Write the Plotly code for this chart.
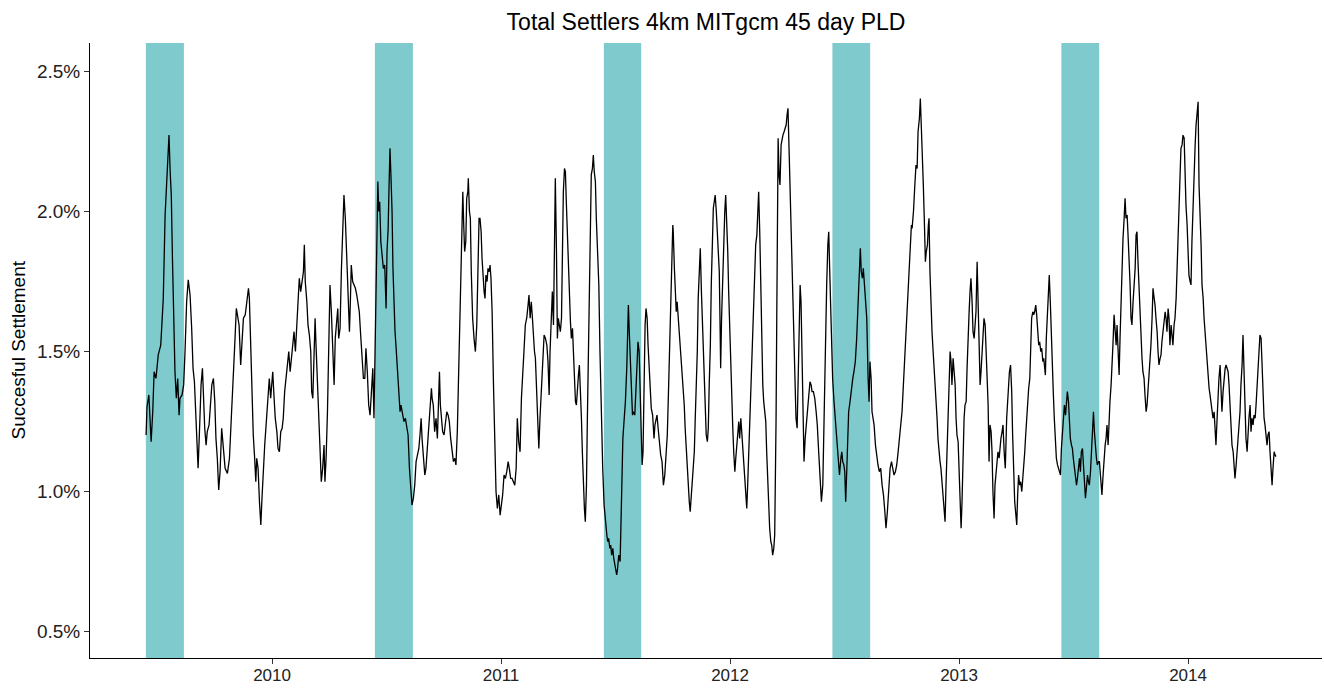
import plotly.graph_objects as go

# Decimal-year time stamps and settlement percentages
t = [
2009.450,2009.454,2009.462,2009.472,2009.479,2009.485,2009.493,2009.503,2009.514,2009.520,
2009.525,2009.533,2009.540,2009.546,2009.550,2009.555,2009.560,2009.565,2009.571,2009.576,
2009.582,2009.588,2009.594,2009.598,2009.607,2009.614,2009.620,2009.627,2009.634,2009.642,
2009.649,2009.655,2009.661,2009.667,2009.671,2009.677,2009.683,2009.690,2009.696,2009.700,
2009.706,2009.712,2009.717,2009.725,2009.731,2009.737,2009.744,2009.750,2009.755,2009.761,
2009.767,2009.773,2009.780,2009.787,2009.795,2009.805,2009.814,2009.822,2009.830,2009.837,
2009.844,2009.850,2009.856,
2009.863,2009.869,2009.875,2009.883,2009.891,2009.897,2009.901,2009.907,2009.913,2009.918,
2009.924,2009.929,2009.933,2009.939,2009.945,2009.951,2009.956,2009.962,2009.968,2009.974,
2009.981,2009.988,2009.994,2010.003,2010.009,2010.014,2010.021,2010.026,2010.032,2010.038,
2010.044,2010.049,2010.055,2010.061,2010.067,2010.073,2010.079,2010.084,2010.090,2010.096,
2010.102,2010.108,2010.114,2010.119,2010.125,2010.131,2010.137,2010.141,2010.145,2010.152,
2010.157,2010.163,2010.169,2010.173,2010.178,2010.183,2010.188,2010.192,2010.198,2010.204,
2010.210,2010.215,2010.221,2010.227,2010.231,2010.236,2010.242,2010.248,2010.253,2010.259,
2010.265,2010.271,
2010.276,2010.283,2010.287,2010.291,2010.297,2010.303,2010.309,2010.314,2010.320,2010.326,
2010.332,2010.338,2010.342,2010.346,2010.352,2010.358,2010.364,2010.370,2010.376,2010.381,
2010.387,2010.393,2010.399,2010.405,2010.410,2010.416,2010.422,2010.428,2010.434,2010.440,
2010.445,2010.451,2010.457,2010.462,2010.466,2010.470,2010.475,2010.480,2010.486,2010.492,
2010.498,2010.502,2010.507,2010.511,2010.515,2010.520,2010.524,2010.528,2010.533,2010.537,
2010.541,2010.547,2010.553,2010.559,2010.563,2010.569,2010.576,2010.582,2010.588,2010.594,
2010.600,2010.606,2010.611,2010.617,2010.623,2010.629,2010.635,2010.641,2010.646,2010.651,
2010.655,2010.661,2010.667,2010.672,2010.678,2010.684,2010.690,2010.696,
2010.699,2010.704,2010.710,2010.716,2010.722,2010.728,2010.731,2010.735,2010.739,2010.745,
2010.751,2010.757,2010.763,2010.769,2010.774,2010.780,2010.786,2010.792,2010.798,2010.803,
2010.809,2010.815,2010.821,2010.827,2010.833,2010.837,2010.841,2010.846,2010.850,2010.855,
2010.857,2010.862,2010.866,2010.870,2010.876,2010.882,2010.888,2010.894,2010.900,2010.904,
2010.908,2010.913,2010.917,2010.921,2010.926,2010.930,2010.934,2010.939,2010.943,2010.948,
2010.952,2010.956,2010.961,2010.967,2010.972,2010.978,2010.984,2010.990,2010.996,2011.001,
2011.007,2011.013,2011.019,2011.025,2011.031,2011.036,2011.042,2011.048,2011.054,2011.060,
2011.066,2011.071,2011.077,2011.083,2011.089,2011.095,2011.100,
2011.106,2011.112,2011.118,2011.122,2011.127,2011.132,2011.137,2011.141,2011.146,2011.150,
2011.154,2011.159,2011.165,2011.170,2011.176,2011.182,2011.188,2011.194,2011.200,2011.205,
2011.210,2011.214,2011.220,2011.224,2011.229,2011.233,2011.237,2011.242,2011.246,2011.250,
2011.255,2011.259,2011.264,2011.268,2011.272,2011.277,2011.281,2011.285,2011.290,2011.294,
2011.298,2011.303,2011.307,2011.312,2011.316,2011.320,2011.325,2011.329,2011.333,2011.338,
2011.342,2011.346,2011.351,2011.355,2011.359,2011.364,2011.368,2011.373,2011.377,2011.381,
2011.386,2011.390,2011.394,2011.399,2011.403,2011.407,2011.412,2011.416,2011.421,2011.427,
2011.432,2011.438,2011.444,2011.450,2011.456,2011.462,2011.466,2011.470,2011.475,2011.479,
2011.483,2011.488,2011.492,2011.496,2011.501,2011.505,2011.509,2011.514,
2011.520,2011.526,2011.532,2011.537,2011.543,2011.549,2011.556,2011.561,2011.565,2011.569,
2011.574,2011.578,2011.584,2011.590,2011.594,2011.598,2011.603,2011.607,2011.611,2011.616,
2011.620,2011.624,2011.629,2011.633,2011.638,2011.642,2011.646,2011.651,2011.656,2011.662,
2011.668,2011.672,2011.677,2011.681,2011.686,2011.691,2011.697,2011.703,2011.709,2011.715,
2011.721,2011.726,2011.732,2011.738,2011.742,2011.747,2011.750,2011.752,2011.757,2011.760,
2011.765,2011.769,2011.774,2011.778,2011.783,2011.787,2011.791,2011.796,2011.800,2011.804,
2011.809,2011.813,2011.818,2011.822,2011.826,2011.831,2011.835,2011.840,2011.844,2011.848,
2011.853,2011.857,2011.861,2011.866,2011.870,2011.875,2011.879,2011.883,2011.888,2011.892,
2011.896,2011.901,2011.905,2011.909,2011.914,2011.918,2011.923,2011.927,2011.931,2011.935,
2011.940,2011.944,2011.948,2011.953,
2011.956,2011.959,2011.963,2011.968,2011.972,2011.977,2011.981,2011.986,2011.990,2011.994,
2011.999,2012.003,2012.007,2012.012,2012.016,2012.021,2012.025,2012.029,2012.034,2012.038,
2012.042,2012.047,2012.051,2012.056,2012.060,2012.064,2012.069,2012.073,2012.077,2012.082,
2012.086,2012.090,2012.095,2012.099,2012.104,2012.108,2012.112,2012.117,2012.121,2012.125,
2012.130,2012.134,2012.138,2012.143,2012.147,2012.152,2012.156,2012.160,2012.165,2012.169,
2012.173,2012.178,2012.182,2012.186,2012.191,2012.195,2012.198,2012.201,2012.204,2012.207,
2012.210,2012.214,2012.218,2012.223,2012.227,2012.231,2012.236,2012.240,2012.245,2012.249,
2012.253,2012.258,2012.262,2012.266,2012.271,2012.275,2012.279,2012.284,2012.288,2012.293,
2012.297,2012.301,2012.306,2012.310,2012.314,2012.319,2012.323,2012.328,2012.332,2012.336,
2012.341,2012.345,2012.349,2012.354,2012.358,
2012.364,2012.370,2012.376,2012.381,2012.387,2012.393,2012.399,2012.405,2012.410,2012.416,
2012.422,2012.427,2012.431,2012.435,2012.440,2012.444,2012.448,2012.454,2012.460,2012.466,
2012.472,2012.478,2012.484,2012.488,2012.492,2012.497,2012.501,2012.505,2012.510,2012.514,
2012.518,2012.524,2012.530,2012.536,2012.541,2012.547,2012.553,2012.559,2012.565,2012.569,
2012.573,2012.578,2012.582,2012.587,2012.591,2012.597,2012.603,2012.607,2012.611,2012.616,
2012.620,2012.624,2012.629,2012.635,2012.641,2012.646,2012.652,2012.658,2012.664,2012.670,
2012.676,2012.681,2012.687,2012.693,2012.699,2012.705,2012.711,2012.716,2012.722,2012.728,
2012.734,2012.740,2012.746,2012.751,2012.757,2012.763,2012.769,2012.775,2012.780,2012.786,
2012.792,
2012.795,2012.801,2012.807,2012.812,2012.817,2012.821,2012.827,2012.831,2012.835,2012.840,
2012.844,2012.849,2012.853,2012.857,2012.862,2012.866,2012.869,2012.873,2012.878,2012.882,
2012.886,2012.891,2012.895,2012.900,2012.904,2012.908,2012.913,2012.917,2012.921,2012.926,
2012.930,2012.934,2012.939,2012.943,2012.948,2012.952,2012.956,2012.961,2012.965,2012.969,
2012.974,2012.978,2012.983,2012.987,2012.991,2012.996,2013.000,2013.004,2013.009,2013.013,
2013.017,2013.022,2013.026,2013.031,2013.035,2013.039,2013.044,2013.048,2013.052,2013.057,
2013.061,2013.066,2013.070,2013.074,2013.079,2013.083,2013.087,2013.092,2013.096,2013.100,
2013.105,2013.109,2013.114,2013.118,2013.122,2013.127,2013.131,2013.135,2013.140,2013.144,
2013.148,2013.153,2013.157,2013.162,2013.166,2013.170,2013.175,2013.179,2013.183,2013.188,
2013.192,2013.197,
2013.202,2013.208,2013.214,2013.220,2013.225,2013.230,2013.234,2013.238,2013.243,2013.247,
2013.252,2013.256,2013.260,2013.265,2013.269,2013.274,2013.278,2013.282,2013.287,2013.291,
2013.296,2013.300,2013.304,2013.309,2013.313,2013.317,2013.322,2013.326,2013.330,2013.335,
2013.339,2013.344,2013.348,2013.352,2013.357,2013.361,2013.366,2013.370,2013.374,2013.377,
2013.381,2013.386,2013.390,2013.394,2013.399,2013.403,2013.408,2013.412,2013.416,2013.421,
2013.425,2013.430,2013.434,2013.438,2013.443,2013.447,2013.451,2013.456,2013.460,2013.465,
2013.469,2013.473,2013.478,2013.482,2013.486,2013.491,2013.495,2013.499,2013.504,2013.508,
2013.513,2013.517,2013.521,2013.526,2013.530,2013.534,2013.539,2013.543,2013.547,2013.552,
2013.556,2013.561,2013.565,2013.569,2013.574,2013.578,2013.582,2013.587,2013.591,2013.595,
2013.600,2013.604,2013.609,2013.613,2013.619,2013.624,
2013.629,2013.633,2013.638,2013.642,2013.646,2013.651,2013.655,2013.659,2013.664,2013.668,
2013.672,2013.677,2013.681,2013.686,2013.690,2013.694,2013.699,2013.703,2013.707,2013.712,
2013.716,2013.721,2013.725,2013.729,2013.734,2013.738,2013.742,2013.747,2013.751,2013.755,
2013.760,2013.764,2013.769,2013.773,2013.777,2013.782,2013.786,2013.790,2013.795,2013.799,
2013.803,2013.808,2013.812,2013.817,2013.821,2013.825,2013.830,2013.834,2013.838,2013.843,
2013.847,2013.852,2013.856,2013.860,2013.865,2013.869,2013.873,2013.878,2013.882,2013.886,
2013.891,2013.895,2013.900,2013.904,2013.908,2013.913,2013.917,2013.921,2013.926,2013.930,
2013.934,2013.939,2013.943,2013.948,2013.952,2013.956,2013.961,2013.965,2013.969,2013.974,
2013.978,2013.983,2013.987,2013.991,2013.996,2014.000,2014.004,2014.009,2014.013,2014.017,
2014.022,2014.026,2014.031,2014.035,2014.039,2014.044,
2014.048,2014.052,2014.057,2014.061,2014.066,2014.070,2014.074,2014.079,2014.083,2014.087,
2014.092,2014.096,2014.100,2014.105,2014.109,2014.114,2014.118,2014.122,2014.127,2014.131,
2014.135,2014.140,2014.144,2014.148,2014.153,2014.157,2014.162,2014.166,2014.170,2014.175,
2014.179,2014.183,2014.188,2014.192,2014.197,2014.201,2014.205,2014.210,2014.214,2014.218,
2014.223,2014.227,2014.231,2014.236,2014.240,2014.245,2014.249,2014.253,2014.258,2014.262,
2014.266,2014.271,2014.275,2014.279,2014.284,2014.288,2014.293,2014.297,2014.301,2014.306,
2014.310,2014.314,2014.319,2014.323,2014.328,2014.332,2014.336,2014.341,2014.345,2014.349,
2014.354,2014.358,2014.362,2014.367,2014.371,2014.376,2014.380,2014.384,
]

settlement_pct = [
1.200,1.301,1.343,1.176,1.283,1.426,1.402,1.486,1.521,1.617,
1.688,1.986,2.093,2.200,2.271,2.140,2.057,1.831,1.617,1.426,
1.331,1.402,1.271,1.331,1.343,1.379,1.498,1.676,1.754,1.700,
1.581,1.438,1.390,1.271,1.188,1.081,1.212,1.379,1.438,1.319,
1.224,1.164,1.212,1.236,1.307,1.379,1.402,1.319,1.188,1.117,
1.004,1.069,1.224,1.152,1.081,1.063,1.117,1.260,1.379,1.521,
1.652,1.629,1.593,
1.450,1.521,1.617,1.629,1.676,1.724,1.688,1.498,1.319,1.200,
1.117,1.033,1.117,1.081,0.962,0.879,0.974,1.081,1.164,1.236,
1.307,1.402,1.331,1.426,1.331,1.260,1.212,1.152,1.140,1.212,
1.224,1.260,1.355,1.402,1.474,1.498,1.426,1.474,1.533,1.569,
1.498,1.581,1.688,1.760,1.712,1.748,1.783,1.879,1.748,1.676,
1.593,1.557,1.498,1.355,1.331,1.474,1.617,1.521,1.379,1.236,
1.105,1.033,1.081,1.164,1.033,1.117,1.283,1.629,1.736,1.640,
1.498,1.379,
1.545,1.617,1.652,1.545,1.581,1.795,1.926,2.057,1.974,1.855,
1.676,1.569,1.676,1.807,1.748,1.736,1.724,1.700,1.664,1.640,
1.557,1.474,1.402,1.402,1.510,1.426,1.307,1.271,1.379,1.438,
1.260,1.617,1.950,2.105,1.998,2.033,1.890,1.831,1.795,1.807,
1.652,1.855,1.938,2.093,2.224,2.105,1.998,1.795,1.617,1.569,
1.521,1.450,1.367,1.283,1.307,1.271,1.248,1.260,1.236,1.200,
1.081,0.998,0.950,0.974,1.021,1.105,1.129,1.152,1.200,1.260,
1.188,1.117,1.057,1.081,1.152,1.212,1.271,1.367,
1.331,1.307,1.212,1.260,1.188,1.331,1.426,1.307,1.260,1.212,
1.200,1.236,1.283,1.271,1.248,1.188,1.140,1.105,1.117,1.093,
1.212,1.426,1.736,1.950,2.069,1.950,1.855,1.890,2.045,2.069,
2.117,1.998,1.974,1.783,1.617,1.545,1.498,1.593,1.795,1.974,
1.974,1.926,1.831,1.748,1.712,1.688,1.771,1.748,1.795,1.783,
1.807,1.760,1.640,1.379,1.140,0.998,0.938,0.986,0.914,0.950,
0.986,1.057,1.045,1.069,1.105,1.081,1.045,1.045,1.033,1.021,
1.081,1.260,1.176,1.140,1.331,1.402,1.498,
1.593,1.617,1.664,1.700,1.617,1.676,1.617,1.545,1.498,1.474,
1.379,1.260,1.152,1.260,1.379,1.474,1.557,1.545,1.521,1.462,
1.343,1.498,1.664,1.712,1.593,1.855,2.117,1.855,1.545,1.617,
1.593,1.569,1.617,1.855,2.069,2.152,2.140,2.033,1.914,1.783,
1.676,1.605,1.545,1.581,1.498,1.402,1.319,1.307,1.379,1.414,
1.450,1.379,1.260,1.140,1.021,0.938,0.890,1.021,1.260,1.498,
1.736,1.974,2.129,2.152,2.200,2.140,2.105,1.974,1.855,1.736,
1.498,1.260,1.081,0.950,0.879,0.843,0.819,0.831,0.795,0.807,
0.771,0.795,0.760,0.736,0.712,0.700,0.724,0.771,
0.748,1.021,1.188,1.248,1.319,1.438,1.664,1.545,1.438,1.355,
1.271,1.283,1.271,1.379,1.462,1.533,1.498,1.379,1.260,1.093,
1.140,1.379,1.593,1.652,1.617,1.521,1.438,1.355,1.295,1.271,
1.188,1.236,1.260,1.271,1.224,1.164,1.129,1.105,1.021,1.057,
1.117,1.200,1.379,1.557,1.712,1.855,1.950,1.926,1.795,1.712,
1.640,1.676,1.617,1.569,1.521,1.474,1.426,1.379,1.307,1.224,
1.140,1.069,1.010,0.962,0.926,0.986,1.021,1.093,1.140,1.260,
1.379,1.498,1.688,1.783,1.867,1.712,1.617,1.474,1.355,1.260,
1.200,1.176,1.224,1.379,1.521,1.736,1.914,2.010,2.033,2.057,
1.998,1.938,1.855,1.783,
1.617,1.438,1.617,1.783,1.926,1.998,2.057,1.974,1.855,1.712,
1.557,1.438,1.319,1.224,1.140,1.069,1.117,1.164,1.212,1.248,
1.188,1.260,1.212,1.140,1.081,1.021,0.974,0.938,1.021,1.140,
1.260,1.379,1.498,1.617,1.700,1.795,1.879,1.914,1.998,2.069,
1.914,1.736,1.498,1.379,1.319,1.283,1.248,1.140,1.021,0.926,
0.867,0.819,0.807,0.771,0.795,0.843,1.021,1.260,1.617,1.974,
2.260,2.129,2.093,2.236,2.260,2.271,2.283,2.295,2.307,2.343,
2.367,2.212,2.093,1.974,1.855,1.736,1.617,1.438,1.260,1.224,
1.379,1.557,1.736,1.676,1.498,1.319,1.105,1.188,1.224,1.271,
1.307,1.343,1.390,1.379,1.355,
1.355,1.331,1.283,1.236,1.140,1.021,0.962,1.021,1.260,1.498,
1.736,1.879,1.926,1.795,1.617,1.498,1.402,1.319,1.260,1.188,
1.117,1.057,1.117,1.140,1.105,1.093,1.069,0.962,1.081,1.200,
1.283,1.319,1.367,1.402,1.426,1.462,1.545,1.688,1.795,1.867,
1.783,1.760,1.795,1.736,1.712,1.617,1.402,1.319,1.462,1.402,
1.283,1.260,1.236,1.164,1.117,1.093,1.069,1.081,1.021,0.986,
0.926,0.867,0.926,1.021,1.081,1.105,1.081,1.057,1.069,1.093,
1.140,1.200,1.236,1.283,1.379,1.474,1.593,1.640,1.736,1.855,
1.950,
1.938,1.998,2.093,2.164,2.152,2.283,2.331,2.402,2.307,2.212,
2.093,1.950,1.819,1.855,1.879,1.950,1.974,1.783,1.617,1.569,
1.510,1.450,1.379,1.331,1.260,1.188,1.117,1.105,1.081,1.021,
0.962,0.914,0.890,1.021,1.140,1.260,1.379,1.498,1.462,1.379,
1.474,1.438,1.379,1.260,1.200,1.176,1.081,0.962,0.867,0.962,
1.140,1.260,1.307,1.319,1.438,1.557,1.640,1.712,1.760,1.676,
1.569,1.545,1.593,1.640,1.819,1.640,1.474,1.379,1.426,1.498,
1.557,1.617,1.593,1.498,1.402,1.307,1.105,1.236,1.212,1.140,
0.998,0.902,1.021,1.081,1.105,1.140,1.117,1.164,1.188,1.212,
1.236,1.140,
1.081,1.260,1.355,1.426,1.450,1.355,1.200,1.081,0.962,0.926,
0.879,0.986,1.057,1.021,1.033,0.998,1.033,1.081,1.140,1.200,
1.260,1.343,1.367,1.402,1.498,1.617,1.640,1.629,1.640,1.664,
1.629,1.581,1.521,1.533,1.498,1.510,1.462,1.474,1.438,1.414,
1.545,1.629,1.664,1.771,1.664,1.545,1.426,1.343,1.260,1.164,
1.117,1.093,1.081,1.069,1.057,1.152,1.200,1.236,1.307,1.271,
1.331,1.355,1.319,1.260,1.188,1.164,1.152,1.117,1.081,1.069,
1.021,1.045,1.081,1.117,1.069,1.140,1.152,1.105,1.021,0.974,
1.010,1.057,1.033,1.021,1.069,1.140,1.236,1.283,1.212,1.152,
1.117,1.093,1.105,1.105,1.045,0.986,
1.057,1.117,1.164,1.188,1.236,1.164,1.260,1.319,1.379,1.498,
1.521,1.629,1.593,1.521,1.593,1.474,1.414,1.545,1.676,1.795,
1.902,1.974,2.045,1.974,1.986,1.914,1.855,1.736,1.617,1.593,
1.676,1.736,1.795,1.914,1.926,1.807,1.724,1.617,1.545,1.474,
1.426,1.402,1.343,1.283,1.307,1.355,1.402,1.438,1.521,1.617,
1.724,1.688,1.664,1.617,1.569,1.498,1.450,1.474,1.486,1.533,
1.569,1.617,1.640,1.617,1.569,1.652,1.617,1.521,1.593,1.557,
1.521,1.593,1.617,1.688,1.783,1.902,1.998,2.152,2.224,2.236,
2.271,2.260,2.117,2.021,1.950,1.855,1.771,1.748,1.736,1.890,
2.033,2.152,2.236,2.307,2.355,2.390,
2.093,2.021,1.879,1.736,1.688,1.617,1.569,1.498,1.438,1.390,
1.367,1.343,1.319,1.295,1.260,1.283,1.212,1.164,1.260,1.343,
1.402,1.450,1.343,1.283,1.355,1.402,1.438,1.450,1.438,1.426,
1.379,1.307,1.236,1.164,1.140,1.093,1.045,1.093,1.140,1.200,
1.271,1.283,1.379,1.450,1.557,1.414,1.283,1.188,1.140,1.212,
1.260,1.307,1.212,1.260,1.236,1.271,1.260,1.307,1.379,1.450,
1.510,1.557,1.545,1.438,1.307,1.260,1.236,1.188,1.164,1.200,
1.212,1.140,1.069,1.021,1.081,1.140,1.129,1.123,
]

# Highlighted seasonal windows (decimal years)
band_start = [2009.449, 2010.449, 2011.449, 2012.447, 2013.447]
band_end = [2009.615, 2010.615, 2011.612, 2012.612, 2013.612]

x_ticks = [2010, 2011, 2012, 2013, 2014]
x_tick_labels = ["2010", "2011", "2012", "2013", "2014"]
y_ticks = [0.5, 1.0, 1.5, 2.0, 2.5]
y_tick_labels = ["0.5%", "1.0%", "1.5%", "2.0%", "2.5%"]

FONT = "Liberation Sans, Arial, sans-serif"

fig = go.Figure()
fig.add_trace(go.Scatter(x=t, y=settlement_pct, mode="lines",
                         line=dict(color="black", width=1.3),
                         hoverinfo="skip", showlegend=False))

shapes = []
for s, e in zip(band_start, band_end):
    shapes.append(dict(type="rect", xref="x", yref="paper", x0=s, x1=e, y0=0, y1=1,
                       fillcolor="rgb(126,202,204)", line=dict(width=0), layer="below"))

fig.update_layout(
    width=1324, height=688,
    margin=dict(l=90, r=2, t=43, b=30),
    paper_bgcolor="white", plot_bgcolor="white",
    shapes=shapes,
    showlegend=False,
    title=dict(text="Total Settlers 4km MITgcm 45 day PLD", x=0.5, xref="paper",
               xanchor="center", y=1 - 22 / 688, yref="container", yanchor="middle",
               font=dict(family=FONT, size=23, color="black")),
    annotations=[dict(text="Succesful Settlement", xref="paper", yref="paper",
                      x=0, y=0.5, xshift=-72, textangle=-90, showarrow=False,
                      xanchor="center", yanchor="middle",
                      font=dict(family=FONT, size=19, color="black"))],
)
fig.update_xaxes(range=[2009.205, 2014.585], tickvals=x_ticks, ticktext=x_tick_labels,
                 showgrid=False, zeroline=False, showline=True, linecolor="black", linewidth=1,
                 ticks="outside", ticklen=5, tickcolor="#333", tickwidth=1, automargin=False,
                 ticklabelstandoff=-3,
                 tickfont=dict(family=FONT, size=17, color="#222"))
fig.update_yaxes(range=[0.4036, 2.6], tickvals=y_ticks, ticktext=y_tick_labels,
                 showgrid=False, zeroline=False, showline=True, linecolor="black", linewidth=1,
                 ticks="outside", ticklen=5, tickcolor="#333", tickwidth=1, automargin=False,
                 tickfont=dict(family=FONT, size=19, color="#222"))

fig.write_html("out.html")
